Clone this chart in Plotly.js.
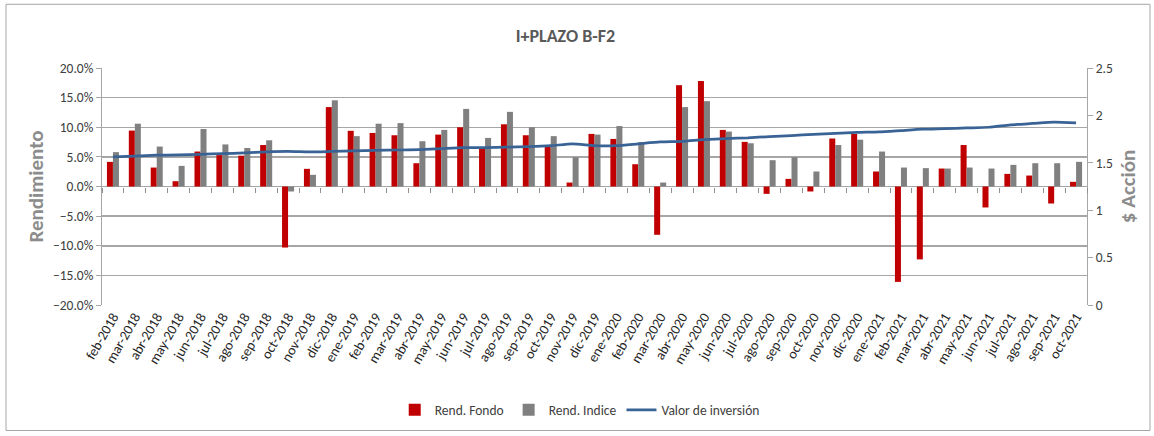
<!DOCTYPE html>
<html>
<head>
<meta charset="utf-8">
<script src="https://cdn.plot.ly/plotly-3.0.1.min.js"></script>
<style>html,body{margin:0;padding:0;background:#fff;}#chart{width:1154px;height:436px;}</style>
</head>
<body>
<div id="chart"></div>
<script>
const months = ["feb-2018","mar-2018","abr-2018","may-2018","jun-2018","jul-2018","ago-2018","sep-2018","oct-2018","nov-2018","dic-2018",
"ene-2019","feb-2019","mar-2019","abr-2019","may-2019","jun-2019","jul-2019","ago-2019","sep-2019","oct-2019","nov-2019","dic-2019",
"ene-2020","feb-2020","mar-2020","abr-2020","may-2020","jun-2020","jul-2020","ago-2020","sep-2020","oct-2020","nov-2020","dic-2020",
"ene-2021","feb-2021","mar-2021","abr-2021","may-2021","jun-2021","jul-2021","ago-2021","sep-2021","oct-2021"];

const rendFondo = [4.16,9.44,3.2,0.9,5.9,5.3,5.2,7.0,-10.3,2.98,13.4,
9.4,9.04,8.65,3.93,8.76,10.0,6.46,10.5,8.65,6.74,0.67,8.88,
8.03,3.76,-8.15,17.1,17.8,9.55,7.53,-1.24,1.29,-0.84,8.1,8.88,
2.53,-16.1,-12.3,3.03,7.0,-3.54,2.13,1.85,-2.87,0.79];

const rendIndice = [5.8,10.6,6.74,3.48,9.7,7.1,6.5,7.8,-0.84,1.97,14.55,
8.5,10.6,10.7,7.64,9.55,13.1,8.2,12.6,10.0,8.5,4.94,8.76,
10.2,7.47,0.67,13.4,14.4,9.27,7.3,4.44,4.94,2.53,7.0,7.9,
5.9,3.2,3.1,3.03,3.2,3.03,3.65,3.93,3.93,4.16];

const valorInversion = [1.562,1.57,1.58,1.584,1.59,1.597,1.604,1.615,1.62,1.615,1.62,
1.625,1.63,1.635,1.64,1.65,1.66,1.66,1.665,1.67,1.68,1.70,1.68,
1.68,1.70,1.72,1.727,1.745,1.756,1.763,1.777,1.787,1.80,1.81,1.82,
1.826,1.84,1.854,1.86,1.868,1.875,1.90,1.915,1.93,1.92];

const FONT = "Carlito, Calibri, Lato, 'Liberation Sans', Arial, sans-serif";
const L = 102, R = 1087, T = 68, B = 306;
const pw = R - L, ph = B - T;

const traces = [
  {type:'bar', name:'Rend. Fondo', x:months, y:rendFondo.map(v=>v/100), marker:{color:'#C00000'}, xaxis:'x', yaxis:'y'},
  {type:'bar', name:'Rend. Indice', x:months, y:rendIndice.map(v=>v/100), marker:{color:'#808080'}, xaxis:'x', yaxis:'y'},
  {type:'scatter', mode:'lines', name:'Valor de inversión', x:months, y:valorInversion, line:{color:'#3A6395', width:2.75, shape:'spline', smoothing:0.6}, xaxis:'x2', yaxis:'y2'}
];

const layout = {
  width:1154, height:436,
  margin:{l:L, r:1154-R, t:T, b:436-B},
  paper_bgcolor:'#fff', plot_bgcolor:'#fff',
  font:{family:FONT, size:13, color:'#404040'},
  title:{text:'<b>I+PLAZO B-F2</b>', x:0.49, xanchor:'center', y:0.918, yanchor:'middle', font:{family:FONT, size:18, color:'#595959'}},
  barmode:'group', bargap:0.45, bargroupgap:0,
  showlegend:true,
  legend:{orientation:'h', x:0.485, xanchor:'center', y:-0.437, yanchor:'middle', font:{family:FONT, size:13.5, color:'#404040'}, traceorder:'normal', itemwidth:30},
  xaxis:{type:'category', categoryorder:'array', categoryarray:months, range:[-0.5,44.5], tickangle:-60,
    showgrid:false, showline:false, ticks:'', tickfont:{family:FONT, size:14, color:'#262626'}, fixedrange:true},
  xaxis2:{type:'category', categoryorder:'array', categoryarray:months, range:[-0.5,44.5], overlaying:'x', anchor:'free', position:0.5,
    showticklabels:false, showgrid:false, showline:false, ticks:'outside', ticklen:5, tickcolor:'#909090', tickwidth:1, tickson:'boundaries'},
  yaxis:{range:[-0.2,0.2], tickvals:[-0.2,-0.15,-0.1,-0.05,0,0.05,0.1,0.15,0.2], tickformat:'.1%', showgrid:true, gridcolor:'#A6A6A6', gridwidth:1.5,
    zeroline:true, zerolinecolor:'#A6A6A6', zerolinewidth:1.5, showline:true, linecolor:'#A6A6A6', linewidth:1,
    ticks:'outside', ticklen:5, tickcolor:'#A6A6A6',
    tickfont:{family:FONT, size:13.5, color:'#404040'},
    title:{text:'<b>Rendimiento</b>', font:{family:FONT, size:21, color:'#8C8C8C'}, standoff:3}},
  yaxis2:{range:[0,2.5], tickvals:[0,0.5,1,1.5,2,2.5], ticktext:['0','0.5','1','1.5','2','2.5'], overlaying:'y', side:'right', anchor:'x',
    showgrid:false, zeroline:false, showline:true, linecolor:'#A6A6A6', linewidth:1, ticks:'outside', ticklen:5, tickcolor:'#A6A6A6',
    tickfont:{family:FONT, size:13.5, color:'#404040'},
    title:{text:'<b>$ Acción</b>', font:{family:FONT, size:21, color:'#8C8C8C'}, standoff:8}},
  shapes:[{type:'rect', xref:'paper', yref:'paper', x0:(6-L)/pw, x1:(1150-L)/pw, y0:(B-432)/ph, y1:(B-4)/ph,
    line:{color:'#A6A6A6', width:1}, fillcolor:'rgba(0,0,0,0)', layer:'below'}]
};

Plotly.newPlot('chart', traces, layout, {displayModeBar:false, staticPlot:true});
</script>
</body>
</html>
